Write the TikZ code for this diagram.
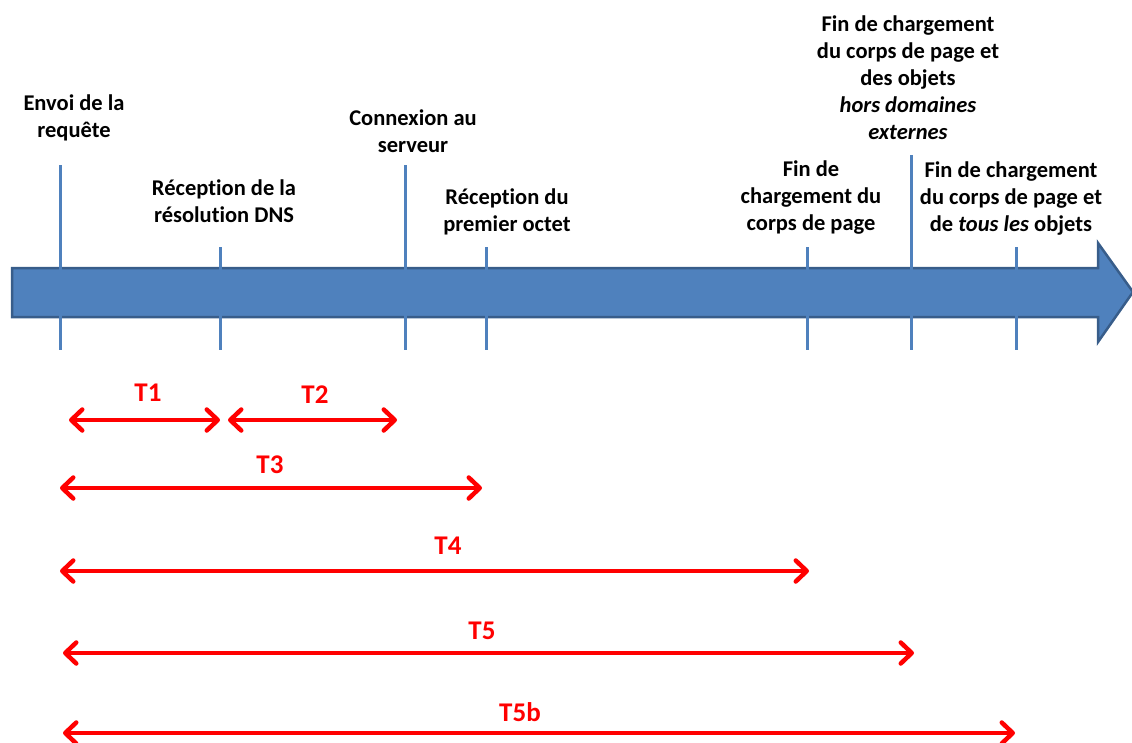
\documentclass[tikz,border=0pt]{standalone}
\usepackage{fontspec}
\setmainfont{Carlito}[Ligatures=NoCommon]
\usetikzlibrary{arrows.meta}
\definecolor{barblue}{RGB}{79,129,189}
\definecolor{bardark}{RGB}{56,93,138}
\definecolor{tred}{RGB}{255,0,0}
\begin{document}
\begin{tikzpicture}[x=1pt,y=-1pt,
  lbl/.style={align=center,inner sep=0pt,font=\fontsize{22.5}{27}\selectfont\bfseries},
  tlbl/.style={inner sep=0pt,text=tred,font=\fontsize{27}{30}\selectfont\bfseries},
  tick/.style={draw=barblue,line width=3pt},
  span/.style={draw=tred,line width=4.5pt,line cap=round,
    {Straight Barb[length=11pt,width=21pt,line cap=round,line join=round]}-{Straight Barb[length=11pt,width=21pt,line cap=round,line join=round]}}]
\useasboundingbox (0,0) rectangle (1132,742);
% main bar
\path[fill=barblue,draw=bardark,line width=2.5pt,line join=miter]
  (12,268) -- (1098,268) -- (1098,243) -- (1133,292) -- (1098,342) -- (1098,317) -- (12,317) -- cycle;
% ticks
\coordinate (a1) at (60,165);  \coordinate (b1) at (60,350);
\coordinate (a2) at (220,247); \coordinate (b2) at (220,350);
\coordinate (a3) at (405,165); \coordinate (b3) at (405,350);
\coordinate (a4) at (486,247); \coordinate (b4) at (486,350);
\coordinate (a5) at (807,247); \coordinate (b5) at (807,350);
\coordinate (a6) at (911,155); \coordinate (b6) at (911,350);
\coordinate (a7) at (1016,247);\coordinate (b7) at (1016,350);
\foreach \i in {1,...,7} \draw[tick] (a\i) -- (b\i);
% labels
\node[lbl] (l1) at (74,118) {Envoi de la\\requête};
\node[lbl] (l2) at (224,201) {Réception de la\\résolution DNS};
\node[lbl] (l3) at (413,131) {Connexion au\\serveur};
\node[lbl] (l4) at (507,212) {Réception du\\premier octet};
\node[lbl] (l5) at (811,198) {Fin de\\chargement du\\corps de page};
\node[lbl] (l6) at (908,78) {Fin de chargement\\du corps de page et\\des objets\\\textit{hors domaines}\\\textit{externes}};
\node[lbl] (l7) at (1011,199) {Fin de chargement\\du corps de page et\\de \textit{tous les} objets};
% spans
\coordinate (s1a) at (69,420);  \coordinate (s1b) at (220,420);
\coordinate (s2a) at (228,420); \coordinate (s2b) at (397,420);
\coordinate (s3a) at (60,488);  \coordinate (s3b) at (482,488);
\coordinate (s4a) at (60,571);  \coordinate (s4b) at (809,571);
\coordinate (s5a) at (63,653);  \coordinate (s5b) at (914,653);
\coordinate (s6a) at (63,733);  \coordinate (s6b) at (1015,733);
\draw[span] (s1a) -- (s1b);
\draw[span] (s2a) -- (s2b);
\draw[span] (s3a) -- (s3b);
\draw[span] (s4a) -- (s4b);
\draw[span] (s5a) -- (s5b);
\draw[span] (s6a) -- (s6b);
\node[tlbl] (t1) at (148,393) {T1};
\node[tlbl] (t2) at (315,395) {T2};
\node[tlbl] (t3) at (270,465) {T3};
\node[tlbl] (t4) at (448,546) {T4};
\node[tlbl] (t5) at (482,631) {T5};
\node[tlbl] (t6) at (520,712) {T5b};
\end{tikzpicture}
\end{document}
